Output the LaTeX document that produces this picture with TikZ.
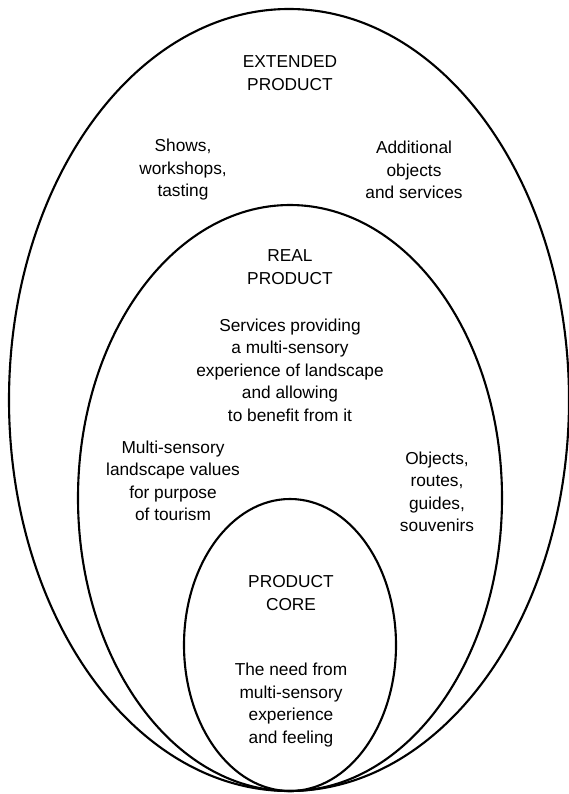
\documentclass[tikz,border=0pt]{standalone}
\usepackage{fontspec}
\setmainfont{Liberation Sans}
\tikzset{
  ring/.style={line width=1.5pt},
  txt/.style={align=center,inner sep=0pt,font=\fontsize{12.3}{16}\selectfont}
}
\begin{document}
\begin{tikzpicture}[x=0.025cm,y=-0.025cm]
            \useasboundingbox (0,0) rectangle (569,794);
            \draw [ring] (289,400) ellipse [x radius=280, y radius=391];
            \draw [ring] (290,498) ellipse [x radius=212, y radius=293];
            \draw [ring] (290,645) ellipse [x radius=106, y radius=146];
            \node [txt] (extended) at(290,73) {EXTENDED\\PRODUCT};
            \node [txt] (shows) at(183,170) {Shows,\\workshops,\\tasting};
            \node [txt] (additional) at(414,170) {Additional\\objects\\and services};
            \node [txt] (real) at(290,267) {REAL\\PRODUCT};
            \node [txt] (services) at(290,370) {Services providing\\a multi-sensory\\experience of landscape\\and allowing\\to benefit from it};
            \node [txt] (values) at(173,481) {Multi-sensory\\landscape values\\for purpose\\of tourism};
            \node [txt] (objects) at(437,492) {Objects,\\routes,\\guides,\\souvenirs};
            \node [txt] (core) at(291,593) {PRODUCT\\CORE};
            \node [txt] (need) at(291,705) {The need from\\multi-sensory\\experience\\and feeling};
        \end{tikzpicture}
\end{document}
